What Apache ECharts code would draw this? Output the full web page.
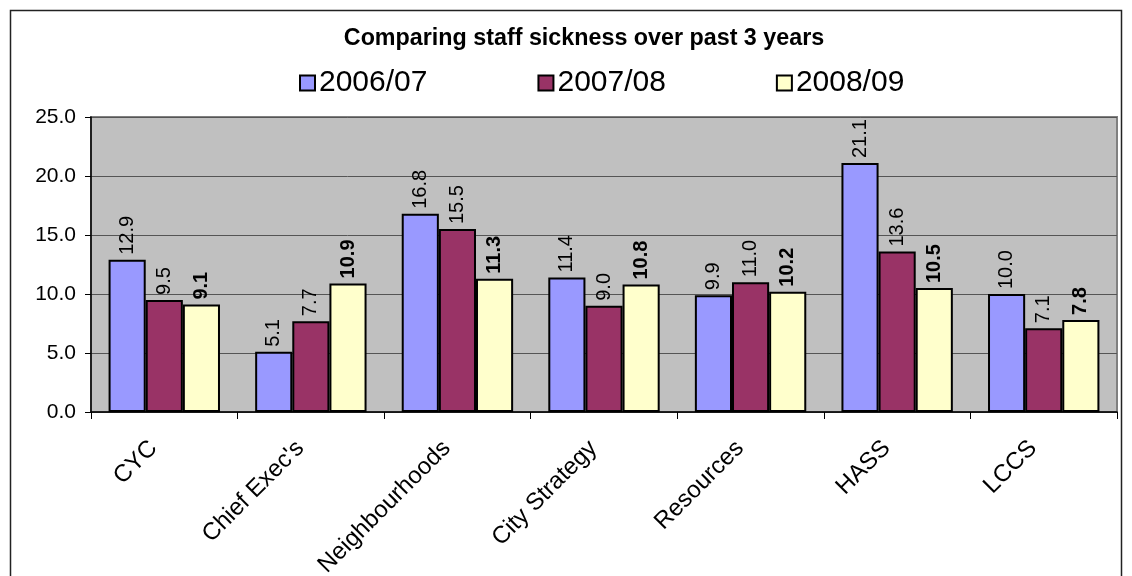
<!DOCTYPE html>
<html>
<head>
<meta charset="utf-8">
<script src="https://cdn.jsdelivr.net/npm/echarts@6/dist/echarts.min.js"></script>
<style>html,body{margin:0;padding:0;background:#fff}#c{width:1132px;height:576px}</style>
</head>
<body>
<div id="c"></div>
<script>
const categories = ["CYC", "Chief Exec's", "Neighbourhoods", "City Strategy", "Resources", "HASS", "LCCS"];
const seriesNames = ["2006/07", "2007/08", "2008/09"];
const values0607 = [12.9, 5.1, 16.8, 11.4, 9.9, 21.1, 10.0];
const values0708 = [9.5, 7.7, 15.5, 9.0, 11.0, 13.6, 7.1];
const values0809 = [9.1, 10.9, 11.3, 10.8, 10.2, 10.5, 7.8];
const yTicks = { min: 0, max: 25, interval: 5 };
const titleText = "Comparing staff sickness over past 3 years";

const colors = ["#9999FF", "#993366", "#FFFFCC"];
const FONT = "'Liberation Sans', Arial, sans-serif";
const chart = echarts.init(document.getElementById('c'), null, { renderer: 'canvas' });

function mkSeries(name, data, color, bold) {
  return {
    name: name,
    type: 'bar',
    data: data,
    barGap: '0%',
    barCategoryGap: '24%',
    itemStyle: { color: color, borderColor: '#000', borderWidth: 2 },
    label: {
      show: true,
      position: 'top',
      rotate: 90,
      align: 'left',
      verticalAlign: 'middle',
      distance: 5,
      fontFamily: FONT,
      fontSize: 20,
      fontWeight: bold ? 'bold' : 'normal',
      color: '#000',
      formatter: p => Number(p.value).toFixed(1)
    }
  };
}

chart.setOption({
  animation: false,
  backgroundColor: '#fff',
  title: {
    text: titleText,
    left: 579, textAlign: 'center',
    top: 22,
    textStyle: { fontFamily: FONT, fontSize: 23.3, fontWeight: 'bold', color: '#000' }
  },
  legend: {
    data: seriesNames,
    left: 294, top: 63,
    icon: 'rect',
    itemWidth: 15, itemHeight: 15,
    itemGap: 110,
    textStyle: { fontFamily: FONT, fontSize: 30, color: '#000', padding: [0, 0, 0, -1] },
    itemStyle: { borderColor: '#000', borderWidth: 2 }
  },
  grid: {
    left: 91, right: 15, top: 117, bottom: 164,
    containLabel: false,
    outerBoundsMode: 'none',
    show: true, backgroundColor: '#C0C0C0', borderColor: '#808080', borderWidth: 2
  },
  xAxis: {
    type: 'category',
    data: categories,
    axisLine: { lineStyle: { color: '#000', width: 1.5 } },
    axisTick: { show: true, length: 7, lineStyle: { color: '#000' } },
    axisLabel: { interval: 0, rotate: 45, margin: 22, padding: [0, 15, 0, 0], fontFamily: FONT, fontSize: 24, color: '#000' }
  },
  yAxis: {
    type: 'value',
    min: yTicks.min, max: yTicks.max, interval: yTicks.interval,
    axisLine: { show: true, lineStyle: { color: '#000', width: 1.5 } },
    axisTick: { show: true, length: 6, lineStyle: { color: '#000' } },
    axisLabel: { margin: 15, fontFamily: FONT, fontSize: 21, color: '#000', formatter: v => v.toFixed(1) },
    splitLine: { show: true, lineStyle: { color: '#555', width: 1 } }
  },
  graphic: [{
    type: 'rect', silent: true, z: -1,
    shape: { x: 10.5, y: 10.5, width: 1111, height: 620 },
    style: { fill: 'none', stroke: '#222', lineWidth: 1.5 }
  }],
  series: [
    mkSeries(seriesNames[0], values0607, colors[0], false),
    mkSeries(seriesNames[1], values0708, colors[1], false),
    mkSeries(seriesNames[2], values0809, colors[2], true)
  ]
});
</script>
</body>
</html>
